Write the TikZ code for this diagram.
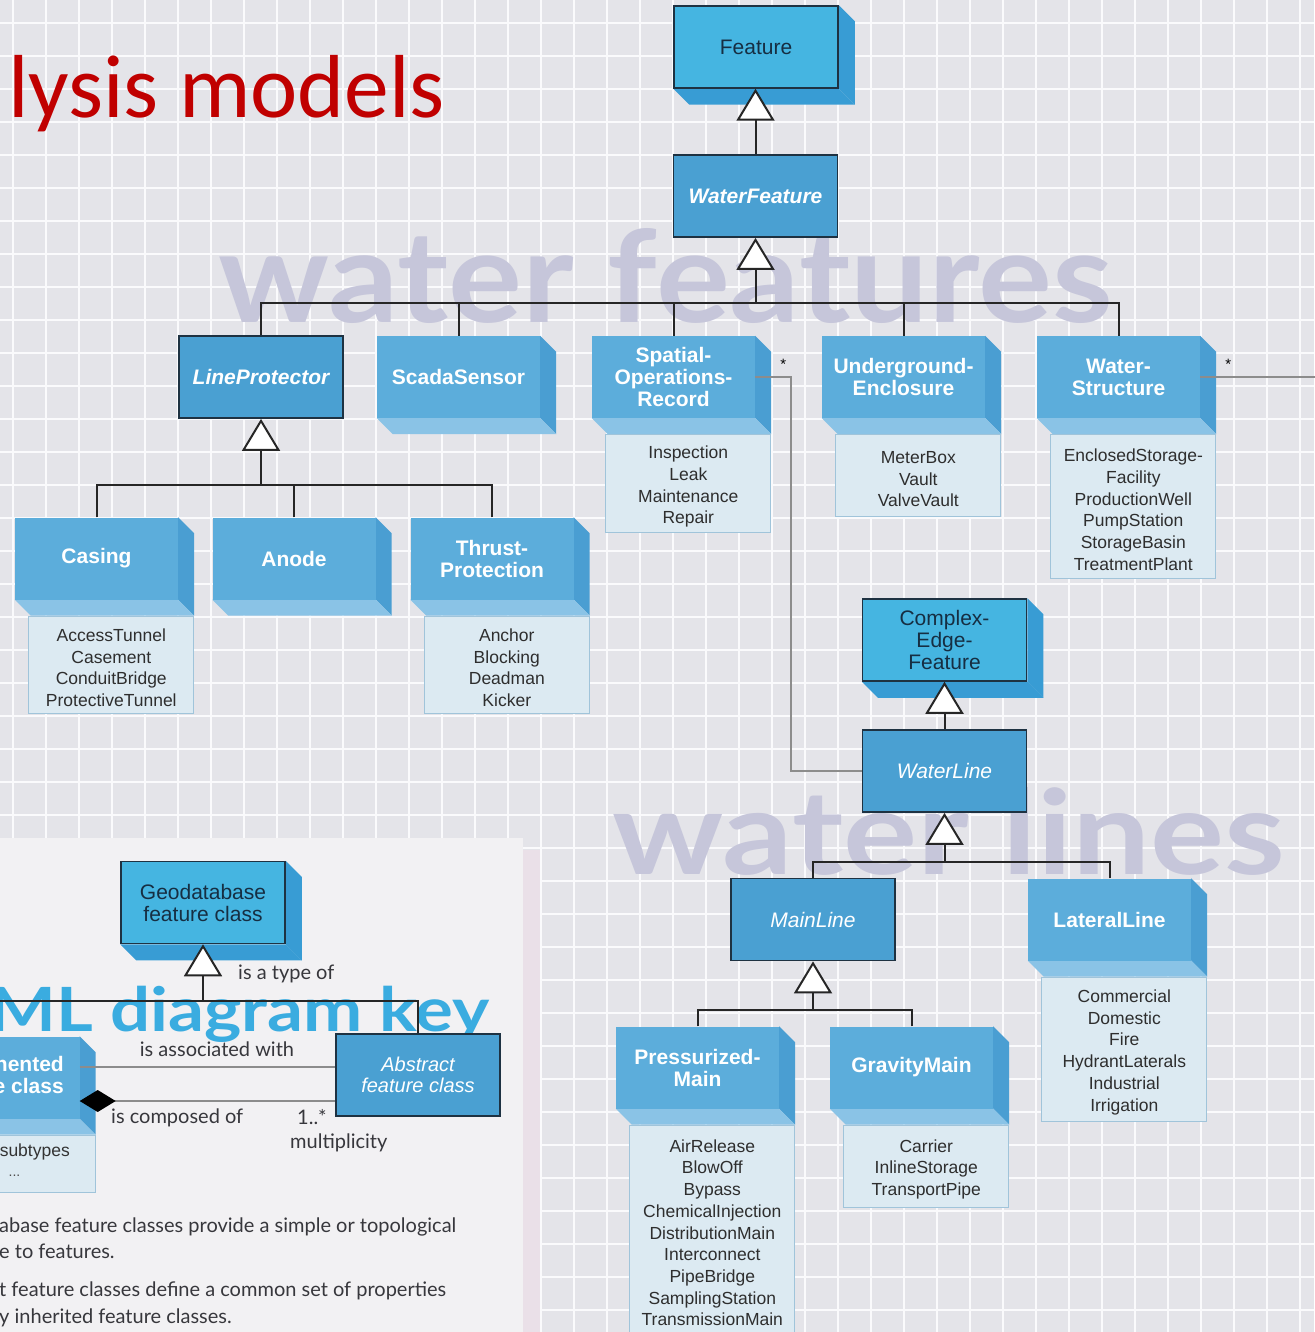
\documentclass[tikz,border=0pt]{standalone}
\usepackage{fontspec}
\setmainfont{Liberation Sans}
\newfontfamily\latofont{Lato}
\newfontfamily\carlitofont{Carlito}
\usetikzlibrary{arrows.meta,calc}

\definecolor{bgc}{RGB}{228,228,233}
\definecolor{gridc}{RGB}{250,250,252}
\definecolor{geofront}{RGB}{69,181,225}
\definecolor{geoside}{RGB}{56,156,212}
\definecolor{absfill}{RGB}{74,160,210}
\definecolor{edgec}{RGB}{30,50,66}
\definecolor{confront}{RGB}{92,173,219}
\definecolor{conside}{RGB}{74,158,210}
\definecolor{conbottom}{RGB}{138,195,230}
\definecolor{listfill}{RGB}{220,234,242}
\definecolor{listedge}{RGB}{160,196,218}
\definecolor{darktext}{RGB}{22,46,66}
\definecolor{wmark}{RGB}{198,198,218}
\definecolor{keyblue}{RGB}{58,172,224}
\definecolor{titlered}{RGB}{192,0,0}
\definecolor{assocc}{RGB}{140,140,140}
\definecolor{panelc}{RGB}{242,241,243}
\definecolor{panelside}{RGB}{234,224,232}
\definecolor{keytext}{RGB}{55,55,60}

\pgfdeclarelayer{gridlayer}
\pgfdeclarelayer{marklayer}
\pgfdeclarelayer{extlayer}
\pgfsetlayers{gridlayer,marklayer,extlayer,main}

% side and bottom faces of a raised class box
\newcommand\extrudebox[3]{%
  \begin{pgfonlayer}{extlayer}
    \fill[#2] (#1.north east) -- ++(16,16) -- ([shift={(16,16)}]#1.south east) -- (#1.south east) -- cycle;
    \fill[#3] (#1.south west) -- (#1.south east) -- ([shift={(16,16)}]#1.south east) -- ([shift={(16,16)}]#1.south west) -- cycle;
  \end{pgfonlayer}}
% taller first line, so a subtype list sits a little lower in its box
\newcommand\listtop{\rule{0pt}{19pt}}

\begin{document}
\begin{tikzpicture}[x=1pt,y=-1pt,
  gridline/.style={draw=gridc, line width=2.4pt},
  geobox/.style={draw=edgec, line width=1.5pt, fill=geofront, minimum width=164pt, minimum height=82pt,
    inner sep=0pt, align=center, text=darktext, font=\fontsize{21}{22}\selectfont},
  absbox/.style={draw=edgec, line width=1.8pt, fill=absfill, minimum width=164pt, minimum height=82pt,
    inner sep=0pt, align=center, text=white, font=\fontsize{21}{22}\selectfont\itshape},
  absbold/.style={absbox, font=\fontsize{21}{22}\selectfont\bfseries\itshape},
  conbox/.style={fill=confront, minimum width=163pt, minimum height=82pt, inner sep=0pt,
    align=center, text=white, font=\fontsize{21}{22}\selectfont\bfseries},
  listbox/.style={draw=listedge, line width=0.8pt, fill=listfill, minimum width=165pt, inner sep=0pt,
    align=center, text=black!82, font=\fontsize{17.5}{21.7}\selectfont, anchor=north east},
  gen/.style={draw=black!85, line width=2pt},
  genarr/.style={gen, line join=miter, -{Triangle[width=38pt,length=32pt,fill=white]}},
  assoc/.style={draw=assocc, line width=2pt},
  starmark/.style={font=\fontsize{15}{15}\selectfont, text=black, inner sep=0pt},
  keylabel/.style={font=\latofont\fontsize{20}{20}\selectfont, text=keytext, inner sep=0pt},
  wmtext/.style={font=\latofont\bfseries, text=wmark, inner sep=0pt}
]
\useasboundingbox (0,0) rectangle (1314,1332);

% squared paper and the key panel
\begin{pgfonlayer}{gridlayer}
  \fill[bgc] (0,0) rectangle (1314,1332);
  \foreach \gx in {13,46,...,1310} \draw[gridline] (\gx,0) -- (\gx,1332);
  \foreach \gy in {23,56,...,1330} \draw[gridline] (0,\gy) -- (1314,\gy);
  \fill[panelside] (523,850) rectangle (540,1332);
  \fill[panelc] (0,838) rectangle (523,1332);
\end{pgfonlayer}

% large background captions
\begin{pgfonlayer}{marklayer}
  \node[wmtext, anchor=base west] (wmFeatures) at (218,322) {\resizebox{894pt}{94pt}{water features}};
  \node[wmtext, anchor=base west] (wmLines) at (612,874) {\resizebox{673pt}{87pt}{water lines}};
  \node[anchor=base east, inner sep=0pt, text=keyblue, font=\latofont\bfseries\fontsize{61}{61}\selectfont] (keyTitle) at (490,1031) {\scalebox{1.16}[1]{ML diagram key}};
\end{pgfonlayer}

\node[anchor=base west, inner sep=0pt, text=titlered, font=\carlitofont\fontsize{89.5}{89.5}\selectfont] (title) at (8,118) {lysis models};

% ---------- class boxes ----------
\node[geobox] (feat) at (756,47) {Feature};
\extrudebox{feat}{geoside}{geoside}
\node[absbold] (wf) at (755.5,196) {WaterFeature};

\node[absbold] (lp) at (261,377) {LineProtector};
\node[conbox] (ss) at (458.5,377) {ScadaSensor};
\extrudebox{ss}{conside}{conbottom}
\node[conbox] (sor) at (673.5,377) {Spatial-\\Operations-\\Record};
\extrudebox{sor}{conside}{conbottom}
\node[listbox, minimum height=98pt] (sorL) at ([shift={(16,16)}]sor.south east) {\listtop Inspection\\Leak\\Maintenance\\Repair};
\node[conbox] (ue) at (903.5,377) {Underground-\\Enclosure};
\extrudebox{ue}{conside}{conbottom}
\node[listbox, minimum height=82pt] (ueL) at ([shift={(16,16)}]ue.south east) {\listtop MeterBox\\Vault\\ValveVault};
\node[conbox] (ws) at (1118.5,377) {Water-\\Structure};
\extrudebox{ws}{conside}{conbottom}
\node[listbox, minimum height=144pt] (wsL) at ([shift={(16,16)}]ws.south east) {\listtop EnclosedStorage-\\Facility\\ProductionWell\\PumpStation\\StorageBasin\\TreatmentPlant};

\node[conbox] (cas) at (96.5,558.5) {Casing};
\extrudebox{cas}{conside}{conbottom}
\node[listbox, minimum height=97pt] (casL) at ([shift={(16,16)}]cas.south east) {\listtop AccessTunnel\\Casement\\ConduitBridge\\ProtectiveTunnel};
\node[conbox] (ano) at (294,558.5) {Anode};
\extrudebox{ano}{conside}{conbottom}
\node[conbox] (tp) at (492,558.5) {Thrust-\\Protection};
\extrudebox{tp}{conside}{conbottom}
\node[listbox, minimum height=97pt] (tpL) at ([shift={(16,16)}]tp.south east) {\listtop Anchor\\Blocking\\Deadman\\Kicker};

\node[geobox] (cef) at (944.5,640) {Complex-\\Edge-\\Feature};
\extrudebox{cef}{geoside}{geoside}
\node[absbox] (wl) at (944.5,771) {WaterLine};

\node[absbox] (ml) at (813,919.5) {MainLine};
\node[conbox] (lat) at (1109.5,919.5) {LateralLine};
\extrudebox{lat}{conside}{conbottom}
\node[listbox, minimum height=144pt] (latL) at ([shift={(16,16)}]lat.south east) {\listtop Commercial\\Domestic\\Fire\\HydrantLaterals\\Industrial\\Irrigation};

\node[conbox] (pm) at (697.5,1067.5) {Pressurized-\\Main};
\extrudebox{pm}{conside}{conbottom}
\node[listbox, minimum height=209pt] (pmL) at ([shift={(16,16)}]pm.south east) {\listtop AirRelease\\BlowOff\\Bypass\\ChemicalInjection\\DistributionMain\\Interconnect\\PipeBridge\\SamplingStation\\TransmissionMain};
\node[conbox] (gm) at (911.5,1067.5) {GravityMain};
\extrudebox{gm}{conside}{conbottom}
\node[listbox, minimum height=82pt] (gmL) at ([shift={(16,16)}]gm.south east) {\listtop Carrier\\InlineStorage\\TransportPipe};

% ---------- generalisation trees ----------
\draw[genarr] (wf.north) -- (wf.north |- feat.south);

\coordinate (j1) at (755.5,303);
\foreach \c in {lp,ss,sor,ue,ws} \draw[gen] (\c.north) |- (j1);
\draw[genarr] (j1) -- (wf.south);

\coordinate (j2) at (261,485);
\foreach \c in {cas,ano,tp} \draw[gen] (\c.north) |- (j2);
\draw[genarr] (j2) -- (lp.south);

\draw[genarr] (wl.north) -- (cef.south);

\coordinate (j3) at (944.5,862);
\foreach \c in {ml,lat} \draw[gen] (\c.north) |- (j3);
\draw[genarr] (j3) -- (wl.south);

\coordinate (j4) at (813,1010);
\foreach \c in {pm,gm} \draw[gen] (\c.north) |- (j4);
\draw[genarr] (j4) -- (ml.south);

% ---------- associations ----------
\draw[assoc] (sor.east) -- ++(36,0) |- (wl.west);
\node[starmark] (sorStar) at ([shift={(28,-13)}]sor.east) {*};
\coordinate (wsEnd) at (1320,377);
\draw[assoc] (ws.east) -- (wsEnd);
\node[starmark] (wsStar) at ([shift={(28,-13)}]ws.east) {*};

% ---------- key ----------
\node[geobox] (geo) at (203,902.5) {Geodatabase\\feature class};
\extrudebox{geo}{geoside}{geoside}
\node[absbox, font=\fontsize{20}{21}\selectfont\itshape] (abs) at (418,1075) {Abstract\\feature class};
\node[conbox] (imp) at (-2,1077.5) {};
\extrudebox{imp}{conside}{conbottom}
\node[anchor=base east, inner sep=0pt, text=white, font=\fontsize{21}{21}\selectfont\bfseries] (impA) at (64,1071) {nented};
\node[anchor=base east, inner sep=0pt, text=white, font=\fontsize{21}{21}\selectfont\bfseries] (impB) at (64,1093) {e class};
\node[listbox, minimum height=57pt] (impL) at ([shift={(16,16)}]imp.south east) {};
\node[anchor=base east, inner sep=0pt, text=black!80, font=\fontsize{17.5}{17.5}\selectfont] (impC) at (70,1156) {subtypes};
\node[inner sep=0pt, text=black!70, font=\fontsize{14}{14}\selectfont] (impD) at (14.5,1176) {...};

\coordinate (kj) at (203,1001);
\draw[gen] (imp.north) |- (kj);
\draw[gen] (abs.north) |- (kj);
\draw[genarr] (kj) -- (geo.south);
\node[keylabel, anchor=base west] (lblType) at (238,979) {is a type of};

\coordinate (ka) at ([shift={(0,-10.5)}]imp.east);
\draw[assoc] (ka) -- (ka -| abs.west);
\node[keylabel, anchor=base] (lblAssoc) at (217,1056) {is associated with};

\coordinate (kc) at ([shift={(0,23.5)}]imp.east);
\draw[assoc, {Diamond[width=22pt,length=36pt,color=black,fill=black]}-] (kc) -- (kc -| abs.west);
\node[keylabel, anchor=base west] (lblComp) at (111,1123) {is composed of};
\node[keylabel, anchor=base west] (lblMult) at (297,1124) {1..*};
\node[keylabel, anchor=base west] (lblMultB) at (290,1148) {multiplicity};

\node[keylabel, anchor=base west] (noteA) at (-1,1232) {abase feature classes provide a simple or topological};
\node[keylabel, anchor=base west] (noteB) at (-1,1258) {e to features.};
\node[keylabel, anchor=base west] (noteC) at (-1,1296) {t feature classes define a common set of properties};
\node[keylabel, anchor=base west] (noteD) at (-1,1323) {y inherited feature classes.};
\end{tikzpicture}
\end{document}
